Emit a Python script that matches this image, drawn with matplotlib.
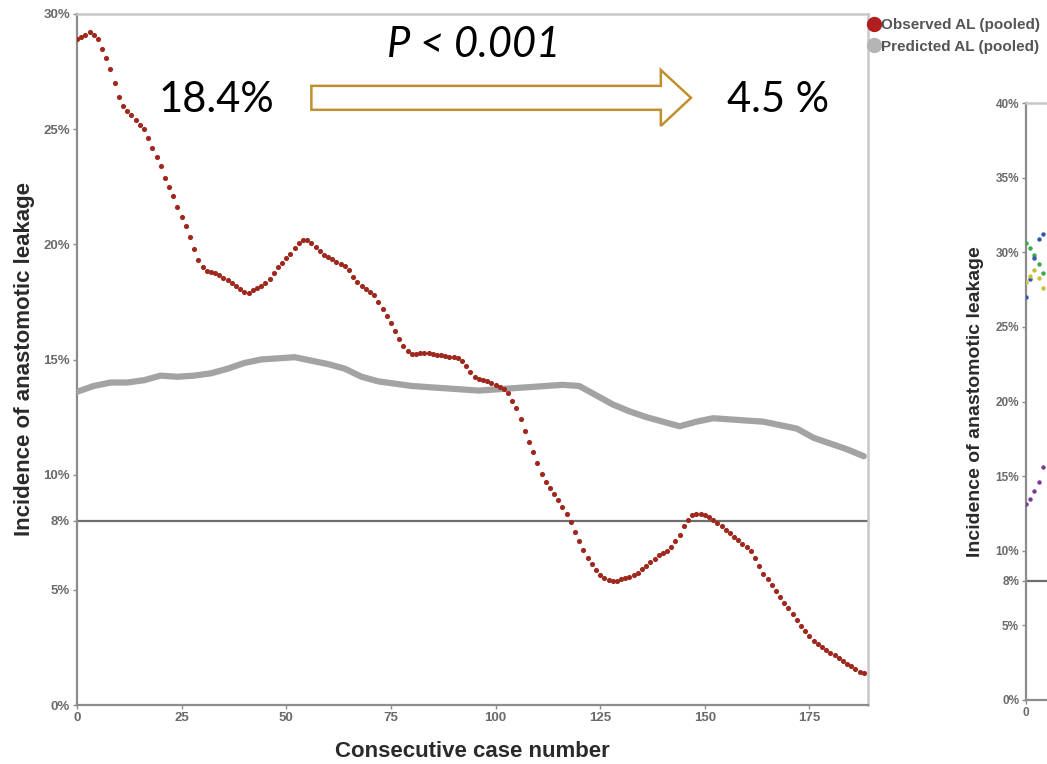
"""Observed vs predicted anastomotic leakage (CUSUM-style learning curve)."""
import matplotlib
matplotlib.use('Agg')
import matplotlib.pyplot as plt
import matplotlib.patches as mpatches
from matplotlib.lines import Line2D
import numpy as np

plt.rcParams.update({
    'font.family': ['Liberation Sans', 'DejaVu Sans'],
    'axes.unicode_minus': False,
})

C_OBS = '#9E281D'
C_PRED = '#A3A3A3'
C_REF = '#6E6E6E'
C_TICK = '#6A6A6A'
C_ARROW = '#C0902E'

# observed AL, one value per consecutive case (0..188), in %
observed = [
    28.9, 29.0, 29.1, 29.2, 29.1, 28.9, 28.5, 28.1, 27.6, 27.0,
    26.4, 26.0, 25.8, 25.6, 25.4, 25.2, 25.0, 24.6, 24.2, 23.8,
    23.4, 22.9, 22.5, 22.1, 21.6, 21.2, 20.8, 20.3, 19.8, 19.3,
    19.0, 18.85, 18.8, 18.75, 18.65, 18.55, 18.45, 18.3, 18.2, 18.05,
    17.95, 17.9, 18.0, 18.1, 18.2, 18.3, 18.5, 18.75, 19.0, 19.2,
    19.4, 19.6, 19.85, 20.05, 20.2, 20.2, 20.05, 19.9, 19.7, 19.55,
    19.45, 19.35, 19.25, 19.15, 19.05, 18.9, 18.6, 18.35, 18.2, 18.05,
    17.95, 17.8, 17.5, 17.2, 16.9, 16.6, 16.25, 15.9, 15.6, 15.35,
    15.25, 15.25, 15.3, 15.3, 15.3, 15.25, 15.2, 15.2, 15.15, 15.1,
    15.1, 15.05, 14.95, 14.7, 14.45, 14.25, 14.15, 14.1, 14.05, 14.0,
    13.9, 13.8, 13.7, 13.55, 13.2, 12.9, 12.4, 11.9, 11.4, 11.0,
    10.5, 10.05, 9.7, 9.4, 9.15, 8.9, 8.6, 8.3, 7.95, 7.5,
    7.1, 6.75, 6.4, 6.1, 5.85, 5.65, 5.5, 5.42, 5.4, 5.4,
    5.45, 5.5, 5.56, 5.65, 5.75, 5.9, 6.05, 6.2, 6.35, 6.5,
    6.6, 6.7, 6.85, 7.1, 7.4, 7.75, 8.05, 8.25, 8.3, 8.3,
    8.25, 8.15, 8.05, 7.9, 7.75, 7.6, 7.45, 7.3, 7.15, 7.0,
    6.85, 6.7, 6.4, 6.05, 5.7, 5.45, 5.2, 4.95, 4.7, 4.45,
    4.2, 3.95, 3.7, 3.45, 3.2, 3.0, 2.8, 2.65, 2.5, 2.4,
    2.25, 2.15, 2.05, 1.9, 1.8, 1.7, 1.55, 1.45, 1.4,
]
obs_case = list(range(len(observed)))

# predicted AL, read every 4th case
pred_case = [0, 4, 8, 12, 16, 20, 24, 28, 32, 36, 40, 44, 48, 52, 56, 60,
             64, 68, 72, 76, 80, 84, 88, 92, 96, 100, 104, 108, 112, 116,
             120, 124, 128, 132, 136, 140, 144, 148, 152, 156, 160, 164,
             168, 172, 176, 180, 184, 188]
predicted = [13.6, 13.85, 14.0, 14.0, 14.1, 14.3, 14.25, 14.3, 14.4, 14.6,
             14.85, 15.0, 15.05, 15.1, 14.95, 14.8, 14.6, 14.25, 14.05, 13.95,
             13.85, 13.8, 13.75, 13.7, 13.65, 13.7, 13.75, 13.8, 13.85, 13.9,
             13.85, 13.45, 13.05, 12.75, 12.5, 12.3, 12.1, 12.3, 12.45, 12.4,
             12.35, 12.3, 12.15, 12.0, 11.6, 11.35, 11.1, 10.8]

ref_level = 8
y_ticks = [0, 5, 8, 10, 15, 20, 25, 30]
x_ticks = [0, 25, 50, 75, 100, 125, 150, 175]

# second (cropped) panel on the right edge
y_ticks2 = [0, 5, 8, 10, 15, 20, 25, 30, 35, 40]
p2_case = [0, 1, 2, 3, 4]
p2_green = [30.6, 30.3, 29.8, 29.2, 28.6]
p2_blue = [27.0, 28.2, 29.6, 30.9, 31.2]
p2_yellow = [28.0, 28.4, 28.8, 28.3, 27.6]
p2_purple = [13.1, 13.5, 14.0, 14.6, 15.6]


def style_axes(ax, yticks, size):
    for side in ['left', 'bottom']:
        ax.spines[side].set_color('#8C8C8C')
        ax.spines[side].set_linewidth(1.6)
    for side in ['top', 'right']:
        ax.spines[side].set_color('#C8C8C8')
        ax.spines[side].set_linewidth(1.8)
    ax.set_yticks(yticks)
    ax.set_yticklabels([f'{t}%' for t in yticks])
    ax.tick_params(axis='both', colors='#8C8C8C', labelcolor=C_TICK,
                   labelsize=size, length=3, width=1, pad=2)
    for lab in ax.get_xticklabels() + ax.get_yticklabels():
        lab.set_fontweight('bold')


fig = plt.figure(figsize=(10.47, 7.64), dpi=100)
ax = fig.add_axes([77 / 1047, 59 / 764, 791 / 1047, 691 / 764])

ax.axhline(ref_level, color=C_REF, linewidth=1.6, zorder=2)
ax.plot(pred_case, predicted, '-', color=C_PRED, linewidth=4.5,
        solid_capstyle='round', zorder=3)
ax.plot(obs_case, observed, 'o', color=C_OBS, markersize=3.7,
        markeredgewidth=0, zorder=4)

ax.set_xlim(0, 189)
ax.set_ylim(0, 30)
ax.set_xticks(x_ticks)
style_axes(ax, y_ticks, 9.5)
ax.set_xlabel('Consecutive case number', fontsize=16, fontweight='bold',
              color='#2A2A2A', labelpad=12)
ax.set_ylabel('Incidence of anastomotic leakage', fontsize=16,
              fontweight='bold', color='#2A2A2A', labelpad=6)

# annotation: rate before -> after
big = dict(fontsize=30, family=['Lato', 'DejaVu Sans'], ha='center',
           va='center', color='black')
ax.text(33.3, 26.27, '18.4%', **big)
ax.text(167.5, 26.27, '4.5 %', **big)
ax.text(94.7, 28.66, 'P < 0.001', style='italic', **big)
arrow = mpatches.Polygon([(56.0, 25.84), (139.5, 25.84), (139.5, 25.14),
                          (146.7, 26.36), (139.5, 27.57), (139.5, 26.88),
                          (56.0, 26.88)], closed=True, facecolor='white',
                         edgecolor=C_ARROW, linewidth=1.8, zorder=5)
ax.add_patch(arrow)

handles = [Line2D([], [], marker='o', linestyle='', color='#B01E1E',
                  markersize=10, label='Observed AL (pooled)'),
           Line2D([], [], marker='o', linestyle='', color='#B4B4B4',
                  markersize=10, label='Predicted AL (pooled)')]
fig.legend(handles=handles, loc='upper left', bbox_to_anchor=(868 / 1047, 1 - 18 / 764),
           frameon=False, handletextpad=0.05, handlelength=0.8,
           labelspacing=0.5, borderpad=0, borderaxespad=0,
           labelcolor='#555555', prop={'weight': 'bold', 'size': 11})

# right-hand panel, mostly cut off by the figure edge
ax2 = fig.add_axes([1026 / 1047, 64 / 764, 791 / 1047, 597 / 764])
ax2.axhline(ref_level, color=C_REF, linewidth=1.6, zorder=2)
for vals, col in [(p2_green, '#3DAA4A'), (p2_blue, '#3457B0'),
                  (p2_yellow, '#C8C23A'), (p2_purple, '#7A3A9A')]:
    ax2.plot(p2_case, vals, 'o', color=col, markersize=3.2,
             markeredgewidth=0, zorder=4)
ax2.set_xlim(0, 189)
ax2.set_ylim(0, 40)
ax2.set_xticks([0])
style_axes(ax2, y_ticks2, 8.5)
ax2.set_ylabel('Incidence of anastomotic leakage', fontsize=14,
               fontweight='bold', color='#2A2A2A', labelpad=8)

fig.savefig('out.png', dpi=100)
